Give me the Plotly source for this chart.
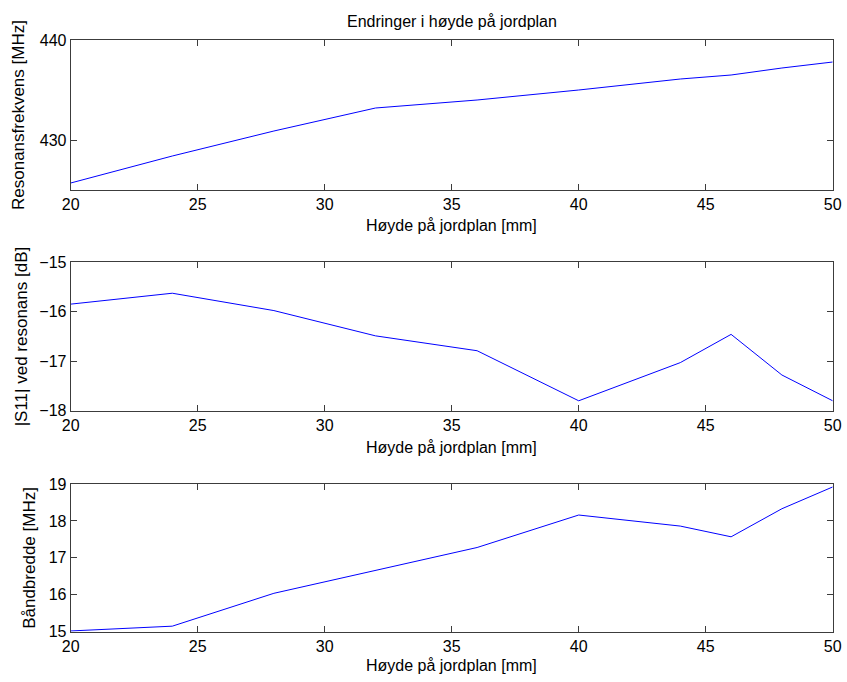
import plotly.graph_objects as go
from plotly.subplots import make_subplots

# Ground-plane height sweep [mm]
height_mm = [20, 24, 28, 32, 36, 40, 44, 46, 48, 50]

# Resonance frequency [MHz]
resonance_mhz = [425.7, 428.4, 430.9, 433.2, 434.0, 435.0, 436.1, 436.5, 437.2, 437.8]

# |S11| at resonance [dB]
s11_db = [-15.85, -15.63, -15.98, -16.49, -16.79, -17.80, -17.03, -16.46, -17.28, -17.80]

# Bandwidth [MHz]
bandwidth_mhz = [15.02, 15.15, 16.04, 16.66, 17.28, 18.16, 17.86, 17.57, 18.33, 18.92]

x_ticks = [20, 25, 30, 35, 40, 45, 50]
freq_ticks = [430, 440]
s11_ticks = [-18, -17, -16, -15]
bw_ticks = [15, 16, 17, 18, 19]

title_text = "Endringer i høyde på jordplan"
x_label = "Høyde på jordplan [mm]"
y_labels = ["Resonansfrekvens [MHz]", "|S11| ved resonans [dB]", "Båndbredde [MHz]"]

W, H = 847, 682
FONT = "Liberation Sans, Arial, Helvetica, sans-serif"
AXIS_COLOR = "#3c3c3c"

# Pixel boxes of the three axes (left, right, top, bottom)
x_left, x_right = 70.7, 832.7
boxes = [(40, 190), (262, 410.7), (484, 631.7)]


def py(p):
    return 1 - p / H


fig = make_subplots(rows=3, cols=1)

series = [resonance_mhz, s11_db, bandwidth_mhz]
y_ranges = [[425, 440], [-18, -15], [15, 19]]
y_tickvals = [freq_ticks, s11_ticks, bw_ticks]

for i, (vals, yr, yt) in enumerate(zip(series, y_ranges, y_tickvals)):
    fig.add_trace(
        go.Scatter(x=height_mm, y=vals, mode="lines",
                   line=dict(color="#0000ff", width=1), showlegend=False),
        row=i + 1, col=1,
    )
    top, bot = boxes[i]
    axis_common = dict(
        showline=True, linecolor=AXIS_COLOR, linewidth=1, mirror="ticks",
        ticks="inside", ticklen=6, tickcolor=AXIS_COLOR, tickwidth=1,
        showgrid=False, zeroline=False, automargin=False,
        tickfont=dict(family=FONT, size=16, color="black"),
    )
    fig.update_xaxes(range=[20, 50], tickvals=x_ticks,
                     domain=[x_left / W, x_right / W], row=i + 1, col=1,
                     **axis_common)
    fig.update_yaxes(range=yr, tickvals=yt,
                     domain=[py(bot), py(top)], row=i + 1, col=1,
                     **axis_common)

annotations = [
    dict(text=title_text, x=(x_left + x_right) / 2 / W, y=py(22),
         xref="paper", yref="paper", showarrow=False,
         font=dict(family=FONT, size=16, color="black"),
         xanchor="center", yanchor="middle"),
]
x_title_y = [226, 447, 665]
y_title_x = [19, 21, 30]
for i in range(3):
    top, bot = boxes[i]
    annotations.append(dict(
        text=x_label, x=(x_left + x_right) / 2 / W, y=py(x_title_y[i]),
        xref="paper", yref="paper", showarrow=False,
        font=dict(family=FONT, size=16, color="black"),
        xanchor="center", yanchor="middle"))
    annotations.append(dict(
        text=y_labels[i], x=y_title_x[i] / W, y=py((top + bot) / 2),
        xref="paper", yref="paper", showarrow=False, textangle=-90,
        font=dict(family=FONT, size=17, color="black"),
        xanchor="center", yanchor="middle"))

fig.update_layout(
    width=W, height=H,
    margin=dict(l=0, r=0, t=0, b=0),
    paper_bgcolor="white", plot_bgcolor="white",
    annotations=annotations,
)

fig.write_html("out.html")
